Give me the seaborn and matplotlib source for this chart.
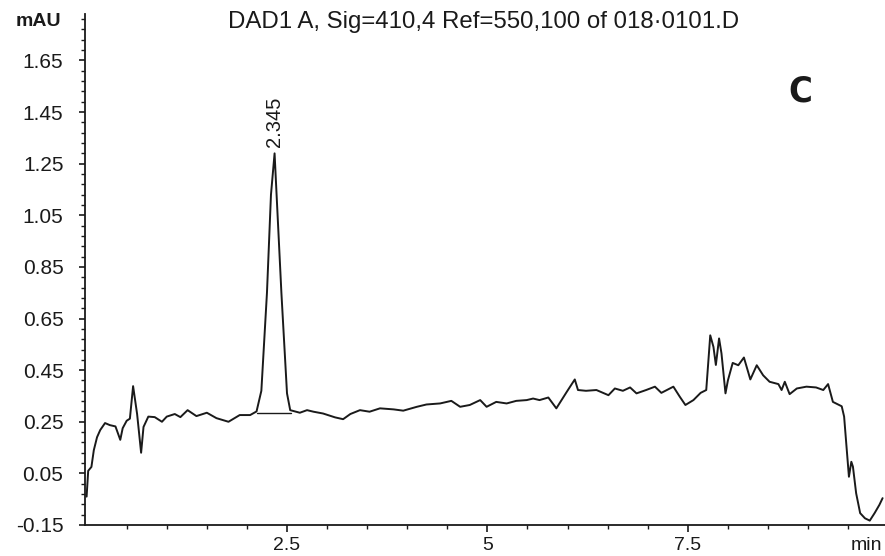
import numpy as np
import pandas as pd
import matplotlib
matplotlib.use("Agg")
import matplotlib.pyplot as plt
import seaborn as sns
from matplotlib.ticker import FixedLocator, FormatStrFormatter

tiempo_min = [0.00, 0.02, 0.06, 0.09, 0.13, 0.17, 0.23, 0.29, 0.36, 0.42,
              0.45, 0.50, 0.54, 0.58, 0.63, 0.68, 0.71, 0.77, 0.85, 0.94,
              1.00, 1.10, 1.17, 1.26, 1.37, 1.50, 1.62, 1.77, 1.91, 2.04,
              2.12, 2.18, 2.25, 2.30, 2.345, 2.37, 2.43, 2.50, 2.54, 2.66,
              2.75, 2.83, 2.95, 3.10, 3.20, 3.29, 3.41, 3.53, 3.66, 3.83,
              3.95, 4.12, 4.24, 4.41, 4.55, 4.66, 4.78, 4.91, 4.99, 5.11,
              5.24, 5.36, 5.49, 5.57, 5.65, 5.76, 5.86, 5.99, 6.09, 6.13,
              6.23, 6.36, 6.51, 6.59, 6.69, 6.78, 6.86, 6.98, 7.09, 7.17,
              7.32, 7.40, 7.47, 7.57, 7.66, 7.73, 7.78, 7.82, 7.85, 7.89,
              7.92, 7.97, 8.00, 8.06, 8.13, 8.20, 8.28, 8.36, 8.44, 8.52,
              8.63, 8.67, 8.71, 8.77, 8.86, 8.98, 9.10, 9.19, 9.25, 9.31,
              9.42, 9.45, 9.48, 9.51, 9.54, 9.56, 9.60, 9.65, 9.71, 9.77,
              9.83, 9.89, 9.93]
absorbancia = [-0.04, 0.06, 0.075, 0.14, 0.19, 0.218, 0.245, 0.237, 0.232, 0.18,
               0.225, 0.254, 0.262, 0.388, 0.28, 0.13, 0.23, 0.27, 0.268, 0.25,
               0.27, 0.28, 0.268, 0.295, 0.272, 0.285, 0.264, 0.25, 0.276, 0.276,
               0.29, 0.37, 0.75, 1.13, 1.29, 1.13, 0.75, 0.36, 0.295, 0.285,
               0.295, 0.289, 0.282, 0.267, 0.26, 0.28, 0.295, 0.289, 0.302, 0.298,
               0.293, 0.308, 0.317, 0.321, 0.331, 0.308, 0.315, 0.334, 0.308, 0.327,
               0.321, 0.331, 0.334, 0.34, 0.334, 0.344, 0.302, 0.366, 0.414, 0.373,
               0.37, 0.373, 0.353, 0.379, 0.37, 0.383, 0.36, 0.373, 0.386, 0.362,
               0.386, 0.347, 0.315, 0.334, 0.362, 0.373, 0.585, 0.54, 0.47, 0.573,
               0.515, 0.36, 0.41, 0.478, 0.469, 0.499, 0.414, 0.469, 0.43, 0.405,
               0.396, 0.373, 0.405, 0.357, 0.379, 0.386, 0.383, 0.373, 0.396, 0.327,
               0.31, 0.27, 0.153, 0.037, 0.095, 0.076, -0.027, -0.104, -0.124, -0.133,
               -0.104, -0.072, -0.046]

# Linea base de integracion del pico
base_x = [2.12, 2.55]
base_y = [0.283, 0.283]

pico_tr = 2.345
pico_altura = 1.29

x_ticks = [2.5, 5, 7.5]
x_labels = ['2.5', '5', '7.5']

sns.set_style("ticks")
plt.rcParams['font.family'] = ['Liberation Sans', 'DejaVu Sans']

color_traza = '#1a1a1a'

fig = plt.figure(figsize=(8.85, 5.56), dpi=100)
ax = fig.add_axes([85 / 885, 31 / 556, 800 / 885, 511 / 556])

df = pd.DataFrame({'t': tiempo_min, 'a': absorbancia})
sns.lineplot(data=df, x='t', y='a', ax=ax, color=color_traza, lw=1.4,
             estimator=None, sort=False)
sns.lineplot(x=base_x, y=base_y, ax=ax, color=color_traza, lw=1.0,
             estimator=None, sort=False)

ax.set_xlim(-0.02, 9.96)
ax.set_ylim(-0.15, 1.83)

ax.xaxis.set_major_locator(FixedLocator(x_ticks))
ax.xaxis.set_minor_locator(FixedLocator(np.arange(0.5, 9.6, 0.5)))
ax.set_xticklabels(x_labels)
ax.yaxis.set_major_locator(FixedLocator(np.round(np.arange(-0.15, 1.66, 0.2), 2)))
ax.yaxis.set_minor_locator(FixedLocator(np.round(np.arange(-0.15, 1.83, 0.04), 2)))
ax.yaxis.set_major_formatter(FormatStrFormatter('%.2f'))

ax.tick_params(axis='y', which='major', labelsize=15, length=4.5, width=1.2, pad=11,
               color=color_traza, labelcolor=color_traza)
ax.tick_params(axis='x', which='major', labelsize=14, length=5, width=1.2, pad=4,
               color=color_traza, labelcolor=color_traza)
ax.tick_params(axis='both', which='minor', length=3, width=1.0, color=color_traza)

sns.despine(ax=ax, top=True, right=True)
for lado in ['left', 'bottom']:
    ax.spines[lado].set_linewidth(1.3)
    ax.spines[lado].set_color(color_traza)

ax.set_xlabel('')
ax.set_ylabel('')

ax.text(pico_tr, pico_altura + 0.025, f'{pico_tr:.3f}', rotation=90,
        ha='center', va='bottom', fontsize=14.5, color=color_traza)

fig.text(38 / 885, 1 - 22 / 556, 'mAU', ha='center', va='center',
         fontsize=14, fontweight='bold', color=color_traza)
fig.text(484 / 885, 1 - 22 / 556, 'DAD1 A, Sig=410,4 Ref=550,100 of 018\u00b70101.D',
         ha='center', va='center', fontsize=17.3, color=color_traza)
fig.text(866 / 885, 1 - 545 / 556, 'min', ha='center', va='center',
         fontsize=14, color=color_traza)
fig.text(800 / 885, 1 - 92 / 556, 'C', ha='center', va='center',
         fontsize=26, fontweight='bold', color=color_traza,
         family='DejaVu Sans', fontstretch='condensed')

fig.savefig('out.png', dpi=100)
